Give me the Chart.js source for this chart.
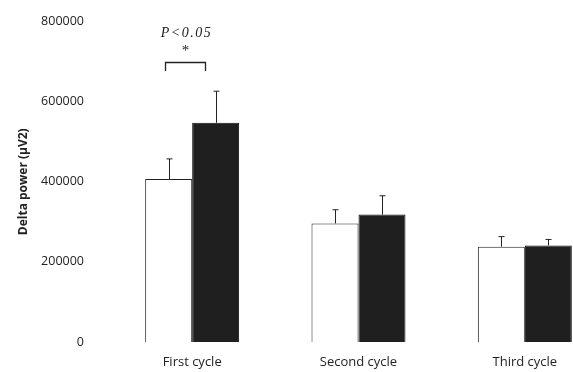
<!DOCTYPE html>
<html>
<head>
<meta charset="utf-8">
<script src="https://cdn.jsdelivr.net/npm/chart.js@4.4.1/dist/chart.umd.min.js"></script>
<style>
  html, body { margin: 0; padding: 0; background: #fff; overflow: hidden; }
  #wrap { width: 615px; height: 375px; margin-top: -3px; }
</style>
</head>
<body>
<div id="wrap"><canvas id="BarChart"></canvas></div>
<script>
const categories = ["First cycle", "Second cycle", "Third cycle"];
const whiteValues = [407000, 296000, 238000];
const whiteErrors = [50000, 34000, 25000];
const blackValues = [547000, 318000, 241000];
const blackErrors = [79000, 47000, 15000];
const yTicks = [0, 200000, 400000, 600000, 800000];

// error bars drawn above each bar (upper whisker only)
const errorBars = {
  id: 'errorBars',
  afterDatasetsDraw(chart) {
    const ctx = chart.ctx;
    const y = chart.scales.y;
    const errs = [whiteErrors, blackErrors];
    ctx.save();
    ctx.strokeStyle = '#222';
    ctx.lineWidth = 1;
    chart.data.datasets.forEach((ds, di) => {
      chart.getDatasetMeta(di).data.forEach((bar, i) => {
        const top = y.getPixelForValue(ds.data[i] + errs[di][i]);
        const x = Math.round(bar.x) + 0.5;
        ctx.beginPath();
        ctx.moveTo(x, bar.y);
        ctx.lineTo(x, top);
        ctx.moveTo(x - 3, top);
        ctx.lineTo(x + 3, top);
        ctx.stroke();
      });
    });
    ctx.restore();
  }
};

// significance bracket over the first cycle
const sigMark = {
  id: 'sigMark',
  afterDraw(chart) {
    const ctx = chart.ctx;
    const w = chart.getDatasetMeta(0).data[0];
    const b = chart.getDatasetMeta(1).data[0];
    const x1 = Math.round(w.x - 4) + 0.5, x2 = Math.round(b.x - 11) + 0.5;
    const yTop = 65.5, yBot = 74;
    ctx.save();
    ctx.strokeStyle = '#222';
    ctx.lineWidth = 1.3;
    ctx.beginPath();
    ctx.moveTo(x1, yBot);
    ctx.lineTo(x1, yTop);
    ctx.lineTo(x2, yTop);
    ctx.lineTo(x2, yBot);
    ctx.stroke();
    ctx.fillStyle = '#222';
    ctx.textAlign = 'center';
    ctx.textBaseline = 'middle';
    const cx = (x1 + x2) / 2;
    ctx.font = 'italic 14px "Liberation Serif"';
    ctx.letterSpacing = '1.5px';
    ctx.fillText('P<0.05', cx + 1, 36);
    ctx.letterSpacing = '0px';
    ctx.font = '15px "Liberation Serif"';
    ctx.fillText('*', cx, 54);
    ctx.restore();
  }
};

const ctx = document.getElementById('BarChart').getContext('2d');
const chart = new Chart(ctx, {
  type: 'bar',
  data: {
    labels: categories,
    datasets: [{
      data: whiteValues,
      backgroundColor: '#ffffff',
      borderColor: '#222',
      borderWidth: 1
    }, {
      data: blackValues,
      backgroundColor: '#1f1f1f',
      borderColor: '#111',
      borderWidth: 1
    }]
  },
  options: {
    responsive: true,
    maintainAspectRatio: false,
    animation: false,
    layout: { padding: { top: 9, right: 7, left: 0, bottom: 0 } },
    datasets: { bar: { categoryPercentage: 0.565, barPercentage: 1 } },
    plugins: {
      legend: { display: false },
      tooltip: { enabled: false }
    },
    scales: {
      x: {
        grid: { display: false },
        border: { display: false },
        ticks: { color: '#222', padding: 4, font: { family: 'Open Sans', size: 13 } },
        afterFit(s) { s.height = 30; }
      },
      y: {
        min: 0,
        max: 800000,
        grid: { display: false },
        border: { display: false },
        afterBuildTicks(s) { s.ticks = yTicks.map(v => ({ value: v })); },
        ticks: {
          color: '#222', padding: 17,
          font: { family: 'Open Sans', size: 12.5 },
          callback: v => String(v)
        },
        title: {
          display: true,
          text: 'Delta power (μV2)',
          color: '#222',
          padding: { top: 16, bottom: 0 },
          font: { family: 'Open Sans', size: 12, weight: 'bold' }
        },
        afterFit(s) { s.width = 109; }
      }
    }
  },
  plugins: [errorBars, sigMark]
});
</script>
</body>
</html>
